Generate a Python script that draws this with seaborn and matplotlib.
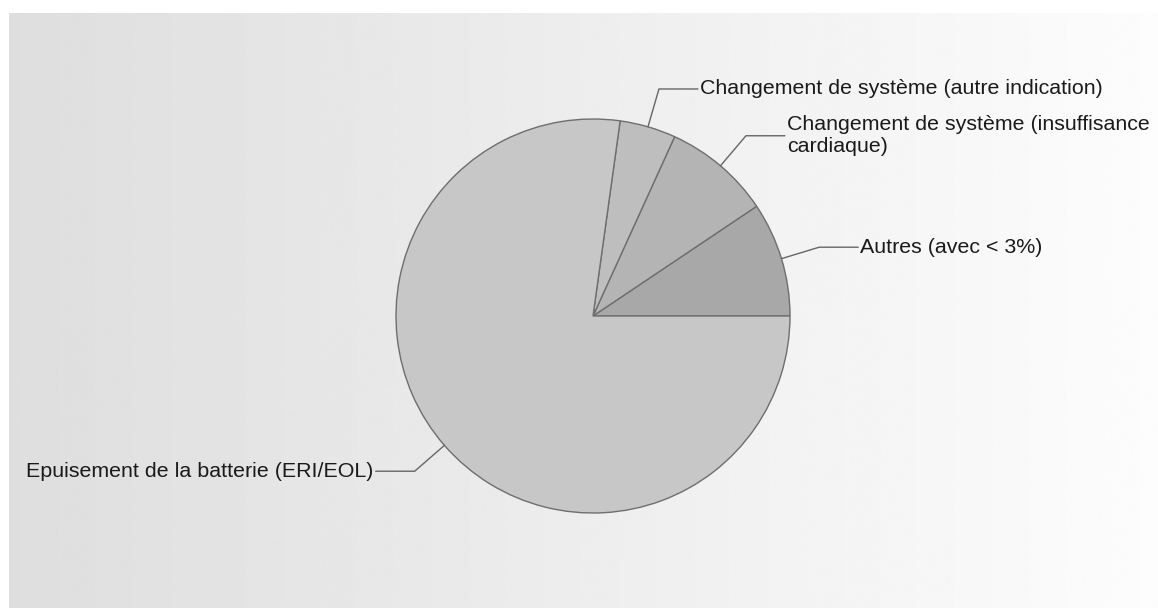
import numpy as np
import matplotlib
matplotlib.use("Agg")
import matplotlib.pyplot as plt
import seaborn as sns

# Reasons for device replacement (share of cases, %)
categories = [
    "Autres (avec < 3%)",
    "Changement de système (insuffisance\ncardiaque)",
    "Changement de système (autre indication)",
    "Epuisement de la batterie (ERI/EOL)",
]
shares = [9.4, 8.8, 4.6, 77.2]
slice_colors = ["#a8a8a8", "#b4b4b4", "#bebebe", "#c7c7c7"]

sns.set_theme(style="white")
plt.rcParams["font.family"] = ["Liberation Sans", "DejaVu Sans"]

W, H = 1158, 608
fig = plt.figure(figsize=(W / 100, H / 100), dpi=100)
fig.patch.set_facecolor("white")

# Horizontal grey-to-white gradient panel
bg = fig.add_axes([9 / W, 0, 1 - 9 / W, 1 - 13 / H])
grad = np.linspace(0.87, 0.99, 512)[None, :]
bg.imshow(grad, aspect="auto", cmap="gray", vmin=0, vmax=1,
          extent=[0, 1, 0, 1], interpolation="bilinear")
bg.set_axis_off()

# Pixel-unit axes covering the whole figure
ax = fig.add_axes([0, 0, 1, 1])
ax.patch.set_alpha(0)

cx, cy, r = 593, H - 316, 197
wedges, _ = ax.pie(
    shares, colors=slice_colors, startangle=0, counterclock=True,
    center=(cx, cy), radius=r, frame=True,
    wedgeprops=dict(edgecolor="#6e6e6e", linewidth=1.0),
)
ax.set_xlim(0, W)
ax.set_ylim(0, H)
ax.set_aspect("equal")
ax.set_axis_off()

# Leader lines: radial segment out to 1.2r, then horizontal, then the label
for w, label in zip(wedges, categories):
    mid = np.deg2rad((w.theta1 + w.theta2) / 2)
    x0, y0 = cx + r * np.cos(mid), cy + r * np.sin(mid)
    x1, y1 = cx + 1.2 * r * np.cos(mid), cy + 1.2 * r * np.sin(mid)
    side = 1 if np.cos(mid) >= 0 else -1
    x2 = x1 + side * 39
    ax.plot([x0, x1, x2], [y0, y1, y1], color="#666666", lw=1.0,
            solid_joinstyle="miter")
    ax.text(x2 + side * 2, y1, label, ha="left" if side > 0 else "right",
            va="center", fontsize=15.4, color="#1a1a1a", linespacing=1.2)

fig.savefig("out.png", dpi=100)
